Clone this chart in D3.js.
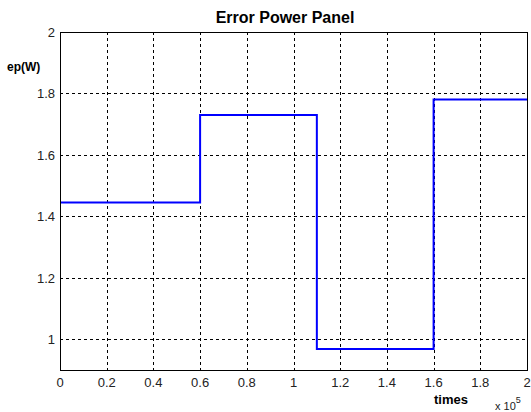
<!DOCTYPE html>
<html>
<head>
<meta charset="utf-8">
<script src="https://cdn.jsdelivr.net/npm/d3@7"></script>
<style>
body { margin: 0; background: #fff; }
svg { display: block; font-family: "Liberation Sans", Arial, sans-serif; }
</style>
</head>
<body>
<div id="container"></div>
<script>
// step data, times in units of 1e5
let times = [0, 0.6, 1.1, 1.6, 2];
let power = [1.445, 1.73, 0.968, 1.78];
let xTicks = [0, 0.2, 0.4, 0.6, 0.8, 1, 1.2, 1.4, 1.6, 1.8, 2];
let yTicks = [1, 1.2, 1.4, 1.6, 1.8, 2];

let W = 531, H = 412;
let padL = 60, padR = 527, padT = 32, padB = 370;

let svg = d3.select("#container").append("svg")
  .attr("width", W)
  .attr("height", H);

let x = d3.scaleLinear().domain([0, 2]).range([padL, padR]);
let y = d3.scaleLinear().domain([0.9, 2]).range([padB, padT]);

// grid
svg.append("g").selectAll("line").data(xTicks.slice(1, -1)).enter()
  .append("line")
    .attr("x1", d => Math.round(x(d)) + 0.5).attr("x2", d => Math.round(x(d)) + 0.5)
    .attr("y1", padT).attr("y2", padB)
    .attr("stroke", "#000").attr("stroke-width", 1)
    .attr("stroke-dasharray", "3,3");

svg.append("g").selectAll("line").data(yTicks.slice(0, -1)).enter()
  .append("line")
    .attr("y1", d => Math.round(y(d)) + 0.5).attr("y2", d => Math.round(y(d)) + 0.5)
    .attr("x1", padL).attr("x2", padR)
    .attr("stroke", "#000").attr("stroke-width", 1)
    .attr("stroke-dasharray", "3,3");

// step line
let pts = [];
power.forEach((v, i) => {
  pts.push([times[i], v]);
  pts.push([times[i + 1], v]);
});
let line = d3.line().x(d => x(d[0])).y(d => y(d[1]));
svg.append("path")
  .attr("d", line(pts))
  .attr("fill", "none")
  .attr("stroke", "#0000ff")
  .attr("stroke-width", 2);

// box
svg.append("rect")
  .attr("x", padL + 0.5).attr("y", padT + 0.5)
  .attr("width", padR - padL).attr("height", padB - padT)
  .attr("fill", "none").attr("stroke", "#000").attr("stroke-width", 1);

// tick labels
svg.append("g").selectAll("text").data(xTicks).enter()
  .append("text")
    .attr("x", d => x(d)).attr("y", 387)
    .attr("text-anchor", "middle")
    .attr("font-size", 13)
    .attr("fill", "#222")
    .text(d => d);

svg.append("g").selectAll("text").data(yTicks).enter()
  .append("text")
    .attr("x", 55).attr("y", d => y(d) + 5)
    .attr("text-anchor", "end")
    .attr("font-size", 13)
    .attr("fill", "#222")
    .text(d => d);

// titles
svg.append("text")
  .attr("x", 285).attr("y", 23)
  .attr("text-anchor", "middle")
  .attr("font-size", 16).attr("font-weight", "bold")
  .text("Error Power Panel");

svg.append("text")
  .attr("x", 7).attr("y", 71)
  .attr("font-size", 12).attr("font-weight", "bold")
  .text("ep(W)");

svg.append("text")
  .attr("x", 451).attr("y", 404)
  .attr("text-anchor", "middle")
  .attr("font-size", 13).attr("font-weight", "bold")
  .text("times");

let exp = svg.append("text")
  .attr("x", 495).attr("y", 410)
  .attr("font-size", 11)
  .attr("fill", "#222");
exp.append("tspan").text("x 10");
exp.append("tspan").attr("dy", -7).attr("font-size", 9).text("5");
</script>
</body>
</html>
